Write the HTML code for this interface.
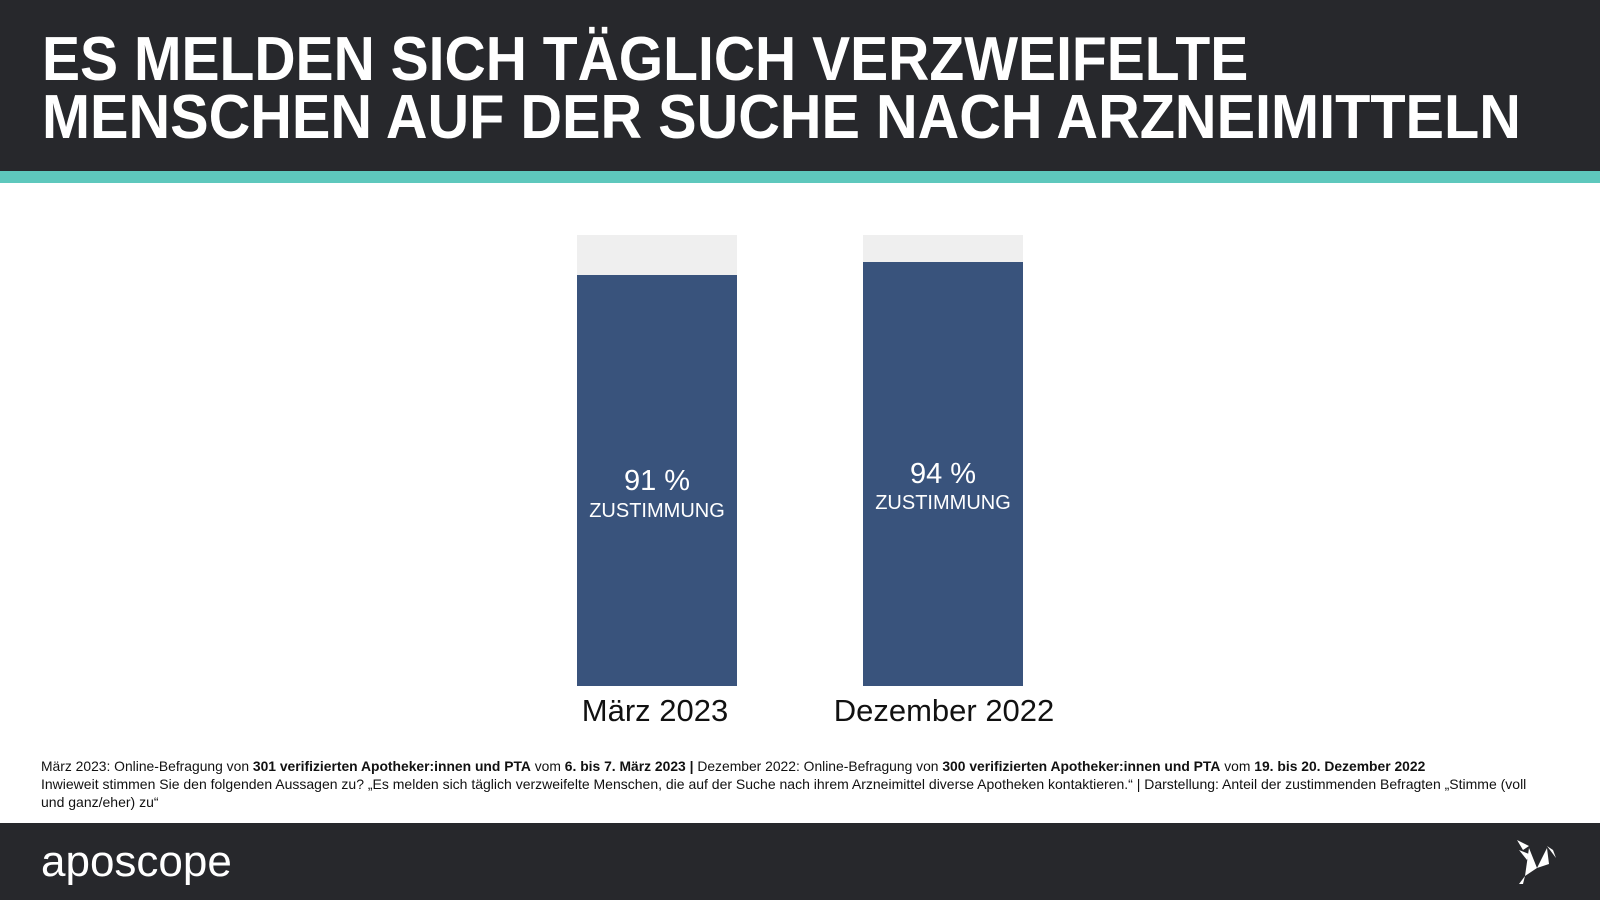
<!DOCTYPE html>
<html><head><meta charset="utf-8"><style>
*{margin:0;padding:0;box-sizing:border-box}
body{width:1600px;height:900px;background:#fff;position:relative;overflow:hidden;font-family:"Liberation Sans",sans-serif}
.hdr{position:absolute;left:0;top:0;width:1600px;height:171px;background:#27282c}
.teal{position:absolute;left:0;top:171px;width:1600px;height:12px;background:#5ec8bd}
.t{position:absolute;left:42px;color:#fff;font-weight:bold;font-size:62px;line-height:62px;white-space:nowrap;transform-origin:left top}
.bg{position:absolute;background:#efefef}
.bar{position:absolute;background:#39537c}
.lbl{position:absolute;color:#fff;text-align:center;width:160px}
.cat{position:absolute;font-size:31px;text-align:center;width:300px;color:#111}
.fn{position:absolute;left:41px;font-size:14px;line-height:18px;color:#111;white-space:nowrap;transform-origin:left top}
.ftr{position:absolute;left:0;top:823px;width:1600px;height:77px;background:#27282c}
</style></head><body>
<div class="hdr"></div><div class="teal"></div>
<div class="t" style="top:29px;transform:scaleX(0.92)">ES MELDEN SICH TÄGLICH VERZWEIFELTE</div>
<div class="t" style="top:87px;transform:scaleX(0.93)">MENSCHEN AUF DER SUCHE NACH ARZNEIMITTELN</div>

<div class="bg" style="left:577px;top:235px;width:160px;height:451px"></div>
<div class="bar" style="left:577px;top:275px;width:160px;height:411px"></div>
<div class="lbl" style="left:577px;top:465px;font-size:29px">91 %</div>
<div class="lbl" style="left:577px;top:500px;font-size:20px">ZUSTIMMUNG</div>

<div class="bg" style="left:863px;top:235px;width:160px;height:451px"></div>
<div class="bar" style="left:863px;top:262px;width:160px;height:424px"></div>
<div class="lbl" style="left:863px;top:458px;font-size:29px">94 %</div>
<div class="lbl" style="left:863px;top:492px;font-size:20px">ZUSTIMMUNG</div>

<div class="cat" style="left:505px;top:693px">März 2023</div>
<div class="cat" style="left:794px;top:693px">Dezember 2022</div>

<div class="fn" style="top:757px;transform:scaleX(0.99)">März 2023: Online-Befragung von <b>301 verifizierten Apotheker:innen und PTA</b> vom <b>6. bis 7. März 2023 |</b> Dezember 2022: Online-Befragung von <b>300 verifizierten Apotheker:innen und PTA</b> vom <b>19. bis 20. Dezember 2022</b></div>
<div class="fn" style="top:775px;transform:scaleX(1.0)">Inwieweit stimmen Sie den folgenden Aussagen zu? „Es melden sich täglich verzweifelte Menschen, die auf der Suche nach ihrem Arzneimittel diverse Apotheken kontaktieren.“ | Darstellung: Anteil der zustimmenden Befragten „Stimme (voll</div>
<div class="fn" style="top:793px">und ganz/eher) zu“</div>

<div class="ftr"></div>
<div style="position:absolute;left:41px;top:838px;color:#fff;font-size:44px;line-height:48px;letter-spacing:0px">aposcope</div>
<svg style="position:absolute;left:1515px;top:838px" width="50" height="50" viewBox="0 0 50 50">
<polygon points="2,2 14,8 8,12" fill="#fff"/><polygon points="4,12 14,16 12,22" fill="#fff"/>
<polygon points="14,10 22,30 10,38" fill="#fff"/><polygon points="22,30 32,10 34,26" fill="#fff"/>
<polygon points="32,8 38,12 41,20" fill="#fff"/><polygon points="10,38 8,46 4,46" fill="#fff"/>
</svg>
</body></html>
